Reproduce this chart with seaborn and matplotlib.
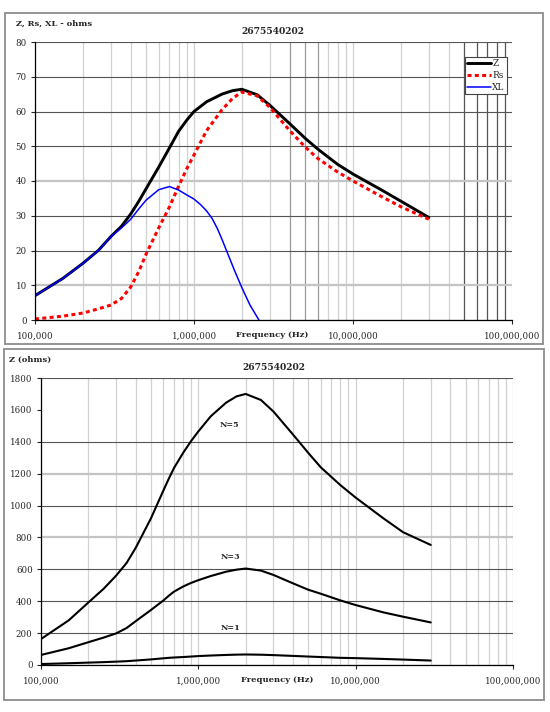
import matplotlib
matplotlib.use('Agg')
import numpy as np
import pandas as pd
import seaborn as sns
import matplotlib.pyplot as plt
from matplotlib.patches import Rectangle
from matplotlib.ticker import FixedLocator, LogLocator, NullFormatter

# --- data ---
part_no = '2675540202'

freq_top = [1e5, 1.5e5, 2e5, 2.5e5, 3e5, 3.5e5, 4e5, 4.5e5, 5e5, 6e5, 7e5, 8e5, 9e5,
            1e6, 1.2e6, 1.5e6, 1.75e6, 2e6, 2.5e6, 3e6, 4e6, 5e6, 6e6, 8e6, 1e7, 1.5e7, 2e7, 3e7]
z_top = [7, 12, 16.3, 20, 24, 27, 30.5, 34.2, 37.8, 44, 49.5, 54.3, 57.5,
         60, 62.8, 65, 66, 66.4, 64.8, 61.8, 56.5, 52.3, 49.2, 44.8, 42, 37.5, 34.2, 29.5]
rs_top = [0.3, 1.1, 2.0, 3.2, 4.3, 6.2, 9.5, 14, 19, 26.5, 32.5, 38.5, 43.5,
          47.5, 54.5, 60.5, 63.8, 65.6, 64.5, 61.2, 54.5, 49.8, 46.5, 42.6, 40, 35.6, 32.6, 29]

freq_xl = [1e5, 1.5e5, 2e5, 2.5e5, 3e5, 3.5e5, 4e5, 4.5e5, 5e5, 6e5, 7e5, 8e5, 9e5,
           1e6, 1.1e6, 1.2e6, 1.3e6, 1.4e6, 1.5e6, 1.6e6, 1.8e6, 2e6, 2.25e6, 2.56e6]
xl_top = [7, 12, 16.3, 20, 24, 26.5, 29, 32, 34.5, 37.5, 38.4, 37.4, 36,
          34.8, 33.2, 31.4, 29.2, 26.4, 23.2, 20, 14.2, 9.3, 4.3, 0]

freq_bot = [1e5, 1.5e5, 2e5, 2.5e5, 3e5, 3.5e5, 4e5, 5e5, 6e5, 6.5e5, 7e5, 8e5, 9e5,
            1e6, 1.2e6, 1.5e6, 1.75e6, 2e6, 2.5e6, 3e6, 4e6, 5e6, 6e6, 8e6, 1e7, 1.5e7, 2e7, 3e7]
n5 = [163, 280, 392, 478, 560, 640, 735, 920, 1095, 1170, 1235, 1330, 1405,
      1465, 1560, 1645, 1685, 1700, 1662, 1590, 1445, 1330, 1240, 1128, 1050, 920, 833, 753]
n3 = [63, 105, 143, 172, 198, 232, 275, 345, 405, 435, 460, 492, 515,
      532, 558, 585, 598, 605, 592, 565, 512, 472, 447, 405, 376, 330, 303, 267]
n1 = [6, 11, 15, 18, 21, 24, 28, 35, 42, 45, 47, 50, 53,
      56, 59.5, 63, 65, 66, 64.5, 62, 57, 53, 50, 45, 43, 38, 34, 28]

n_labels = ['N=5', 'N=3', 'N=1']
n_label_pos = [(1.57e6, 1506), (1.60e6, 680), (1.60e6, 232)]

x_ticks = [1e5, 1e6, 1e7, 1e8]
x_ticklabels = ['100,000', '1,000,000', '10,000,000', '100,000,000']

# --- style ---
sns.set_style('white')
plt.rcParams['font.family'] = ['DejaVu Serif']

W, H = 550, 712
fig = plt.figure(figsize=(W / 100, H / 100), dpi=100)


def box(l, t, r, b):
    return [l / W, 1 - b / H, (r - l) / W, (b - t) / H]


def fx(px):
    return px / W


def fy(py):
    return 1 - py / H


# panel frames
for l, t, r, b in [(5, 13, 543, 344), (4, 349, 544, 700)]:
    fig.patches.append(Rectangle((l / W, 1 - b / H), (r - l) / W, (b - t) / H,
                                 transform=fig.transFigure, fill=False,
                                 edgecolor='#8c8c8c', lw=1.3))

ax1 = fig.add_axes(box(35, 42, 512, 320))
ax2 = fig.add_axes(box(41, 378, 513, 665))

# top chart lines
df_top = pd.DataFrame({'freq': freq_top, 'Z': z_top, 'Rs': rs_top})
df_xl = pd.DataFrame({'freq': freq_xl, 'XL': xl_top})
sns.lineplot(data=df_top, x='freq', y='Z', color='black', lw=2.1, label='Z', ax=ax1)
sns.lineplot(data=df_top, x='freq', y='Rs', color='#ff0000', lw=2.2,
             linestyle=(0, (1.3, 1.1)), label='Rs', ax=ax1)
sns.lineplot(data=df_xl, x='freq', y='XL', color='#0000ff', lw=1.1, label='XL', ax=ax1)

# bottom chart lines
df_bot = pd.DataFrame({'freq': freq_bot, 'N5': n5, 'N3': n3, 'N1': n1})
for col in ['N5', 'N3', 'N1']:
    sns.lineplot(data=df_bot, x='freq', y=col, color='black', lw=1.5, ax=ax2)
for lab, (xv, yv) in zip(n_labels, n_label_pos):
    ax2.text(xv, yv, lab, ha='center', va='center', fontsize=5.8, fontweight='bold')


def style_axis(ax, yticks, light_y, hidden_y, dark_minor, mid_minor):
    ax.set_xscale('log')
    ax.set_xlim(1e5, 1e8)
    ax.set_ylim(yticks[0], yticks[-1])
    ax.xaxis.set_major_locator(FixedLocator(x_ticks))
    ax.set_xticklabels(x_ticklabels)
    ax.xaxis.set_minor_locator(LogLocator(base=10, subs=range(2, 10)))
    ax.xaxis.set_minor_formatter(NullFormatter())
    ax.set_yticks(yticks)
    ax.set_xlabel('')
    ax.set_ylabel('')
    ax.tick_params(axis='x', which='major', length=3, width=0.8, pad=5.5,
                   labelsize=6.2, direction='out', bottom=True)
    ax.tick_params(axis='x', which='minor', length=0)
    ax.tick_params(axis='y', length=3, width=0.8, pad=3, labelsize=6.2,
                   direction='out', left=True)
    ax.grid(axis='y', color='#555555', lw=0.8)
    ax.grid(axis='x', which='both', color='#d2d2d2', lw=0.9)
    for t, v in zip(ax.yaxis.get_major_ticks(), yticks):
        if v in light_y:
            t.gridline.set_color('#c4c4c4')
            t.gridline.set_linewidth(1.6)
        if v in hidden_y:
            t.gridline.set_visible(False)
    locs = ax.xaxis.get_minorticklocs()
    for t, v in zip(ax.xaxis.get_minor_ticks(len(locs)), locs):
        for d in dark_minor:
            if np.isclose(v, d):
                t.gridline.set_color('#555555')
        for d in mid_minor:
            if np.isclose(v, d):
                t.gridline.set_color('#9a9a9a')
    for s in ['top', 'right']:
        ax.spines[s].set_visible(False)
    for s in ['left', 'bottom']:
        ax.spines[s].set_color('black')
        ax.spines[s].set_linewidth(0.9)
    ax.set_axisbelow(True)


style_axis(ax1, list(range(0, 81, 10)), light_y=[10, 40], hidden_y=[],
           dark_minor=[5e7, 6e7, 7e7, 8e7, 9e7], mid_minor=[4e6, 5e6, 6e6])
style_axis(ax2, list(range(0, 1801, 200)), light_y=[800, 1200], hidden_y=[1600],
           dark_minor=[], mid_minor=[])

leg = ax1.legend(loc='upper right', bbox_to_anchor=(0.9895, 0.946), frameon=True,
                 fancybox=False, edgecolor='#444444', framealpha=1, fontsize=6.5,
                 handlelength=2.6, handletextpad=0.2, borderpad=0.25,
                 labelspacing=0.3, borderaxespad=0)
leg.get_frame().set_linewidth(0.8)

# titles and axis texts
fig.text(fx(273), fy(31), part_no, ha='center', va='center', fontsize=6.6, fontweight='bold')
fig.text(fx(16), fy(24), 'Z, Rs, XL - ohms', ha='left', va='center', fontsize=6, fontweight='bold')
fig.text(fx(272), fy(335), 'Frequency (Hz)', ha='center', va='center', fontsize=6, fontweight='bold')

fig.text(fx(274), fy(367), part_no, ha='center', va='center', fontsize=6.6, fontweight='bold')
fig.text(fx(9), fy(360), 'Z (ohms)', ha='left', va='center', fontsize=6, fontweight='bold')
fig.text(fx(277), fy(680), 'Frequency (Hz)', ha='center', va='center', fontsize=6, fontweight='bold')

fig.savefig('out.png', dpi=100)
